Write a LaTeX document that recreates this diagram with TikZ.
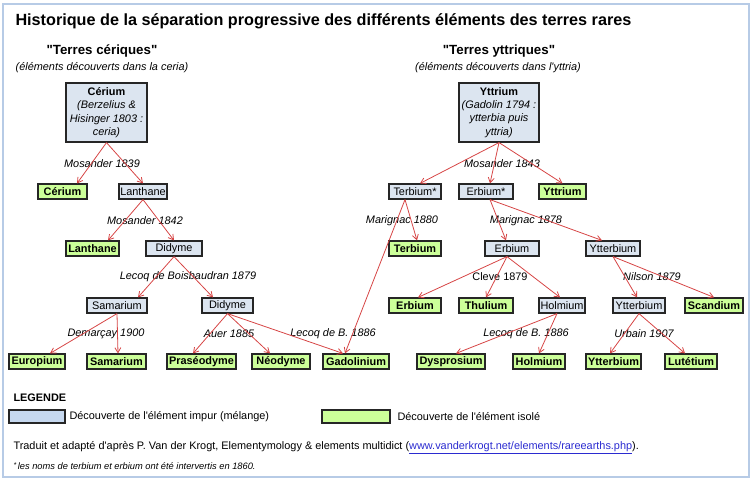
\documentclass[tikz,border=0pt]{standalone}
\usepackage{fontspec}
\setmainfont{Liberation Sans}[Ligatures=TeXOff]
\usetikzlibrary{arrows.meta}
\definecolor{impurfill}{HTML}{DCE5F0}
\definecolor{legimpur}{HTML}{C6D8EF}
\definecolor{isolefill}{HTML}{CCFF99}
\definecolor{fleche}{HTML}{D64545}
\definecolor{cadre}{HTML}{B7CBE6}
\definecolor{lien}{HTML}{2B2BD0}
\begin{document}
\begin{tikzpicture}[x=1pt,y=-1pt,
  impur/.style={draw=black!85,line width=1.2pt,fill=impurfill,inner sep=1pt,minimum height=15pt,font=\fontsize{10.9}{12}\selectfont},
  isole/.style={impur,fill=isolefill,font=\fontsize{10.9}{12}\selectfont\bfseries},
  souche/.style={impur,minimum height=59pt,align=center,font=\fontsize{10.9}{13.3}\selectfont},
  date/.style={font=\fontsize{10.9}{12}\selectfont\itshape},
  fl/.style={-{Straight Barb[length=5pt,width=6pt]},fleche,line width=0.8pt}]
\useasboundingbox (0,0) rectangle (754,485);
\draw[cadre,line width=1.5pt] (3,4) rectangle (749,477);
\node[anchor=west,font=\fontsize{16.2}{18}\selectfont\bfseries] (titre) at (12,21) {Historique de la séparation progressive des différents éléments des terres rares};
% terres ceriques
\node[font=\fontsize{13.3}{15}\selectfont\bfseries] (tc) at (102,51) {"Terres cériques"};
\node[date] (tcs) at (102,68) {(éléments découverts dans la ceria)};
\node[souche,minimum width=81pt] (ce0) at (106.5,112.5) {\textbf{Cérium}\\\textit{(Berzelius \&}\\\textit{Hisinger 1803 :}\\\textit{ceria)}};
\node[isole,minimum width=49pt] (ce1) at (62.5,191.5) {Cérium};
\node[impur,minimum width=48pt] (la1) at (143,191.5) {Lanthane};
\node[isole,minimum width=53pt] (la2) at (92.5,248.5) {Lanthane};
\node[impur,minimum width=56pt] (di1) at (174,248.5) {Didyme};
\node[impur,minimum width=60pt] (sm1) at (117,305.5) {Samarium};
\node[impur,minimum width=51pt] (di2) at (227.5,305.5) {Didyme};
\node[isole,minimum width=56pt] (eu) at (37,361.5) {Europium};
\node[isole,minimum width=59pt] (sm2) at (116.5,361.5) {Samarium};
\node[isole,minimum width=69pt] (pr) at (201.5,361.5) {Praséodyme};
\node[isole,minimum width=58pt] (nd) at (281,361.5) {Néodyme};
\node[isole,minimum width=66pt] (gd) at (356,361.5) {Gadolinium};
% terres yttriques
\node[font=\fontsize{13.3}{15}\selectfont\bfseries] (ty) at (499,51) {"Terres yttriques"};
\node[date] (tys) at (498,68) {(éléments découverts dans l'yttria)};
\node[souche,minimum width=80pt] (y0) at (499,112.5) {\textbf{Yttrium}\\\textit{(Gadolin 1794 :}\\\textit{ytterbia puis}\\\textit{yttria)}};
\node[impur,minimum width=52pt] (tb1) at (415,191.5) {Terbium*};
\node[impur,minimum width=54pt] (er1) at (486,191.5) {Erbium*};
\node[isole,minimum width=47pt] (y1) at (562.5,191.5) {Yttrium};
\node[isole,minimum width=52pt] (tb2) at (415,248.5) {Terbium};
\node[impur,minimum width=54pt] (er2) at (512,248.5) {Erbium};
\node[impur,minimum width=54pt] (yb1) at (613,248.5) {Ytterbium};
\node[isole,minimum width=52pt] (er3) at (415,305.5) {Erbium};
\node[isole,minimum width=54pt] (tm) at (486,305.5) {Thulium};
\node[impur,minimum width=46pt] (ho1) at (562,305.5) {Holmium};
\node[impur,minimum width=52pt] (yb2) at (639,305.5) {Ytterbium};
\node[isole,minimum width=58pt] (sc) at (714,305.5) {Scandium};
\node[isole,minimum width=68pt] (dy) at (451,361.5) {Dysprosium};
\node[isole,minimum width=52pt] (ho2) at (539,361.5) {Holmium};
\node[isole,minimum width=55pt] (yb3) at (613.5,361.5) {Ytterbium};
\node[isole,minimum width=52pt] (lu) at (691,361.5) {Lutétium};
% dates
\node[date] (d1) at (102,164) {Mosander 1839};
\node[date] (d2) at (145,221) {Mosander 1842};
\node[date] (d3) at (188,277) {Lecoq de Boisbaudran 1879};
\node[date] (d4) at (106,334) {Demarçay 1900};
\node[date] (d5) at (229,334) {Auer 1885};
\node[date] (d6) at (333,334) {Lecoq de B. 1886};
\node[date] (d7) at (502,164) {Mosander 1843};
\node[date] (d8) at (402,221) {Marignac 1880};
\node[date] (d9) at (526,221) {Marignac 1878};
\node[font=\fontsize{10.9}{12}\selectfont] (d10) at (500,277) {Cleve 1879};
\node[date] (d11) at (652,277) {Nilson 1879};
\node[date] (d12) at (526,334) {Lecoq de B. 1886};
\node[date] (d13) at (644,334) {Urbain 1907};
% fleches
\draw[fl] (ce0.south) -- ([xshift=14.5]ce1.north);
\draw[fl] (ce0.south) -- (la1.north);
\draw[fl] (la1.south) -- ([xshift=15.5]la2.north);
\draw[fl] (la1.south) -- (di1.north);
\draw[fl] (di1.south) -- ([xshift=21]sm1.north);
\draw[fl] (di1.south) -- ([xshift=-14.5]di2.north);
\draw[fl] (sm1.south) -- ([xshift=13]eu.north);
\draw[fl] (sm1.south) -- ([xshift=1.5]sm2.north);
\draw[fl] (di2.south) -- ([xshift=-8.5]pr.north);
\draw[fl] (di2.south) -- ([xshift=-11]nd.north);
\draw[fl] (di2.south) -- ([xshift=-13]gd.north);
\draw[fl] (y0.south) -- ([xshift=5]tb1.north);
\draw[fl] (y0.south) -- ([xshift=4]er1.north);
\draw[fl] (y0.south) -- (y1.north);
\draw[fl] ([xshift=-10]tb1.south) -- ([xshift=2]tb2.north);
\draw[fl] ([xshift=-10]tb1.south) -- ([xshift=-11]gd.north);
\draw[fl] ([xshift=4]er1.south) -- ([xshift=-6]er2.north);
\draw[fl] ([xshift=4]er1.south) -- ([xshift=-11]yb1.north);
\draw[fl] ([xshift=-5]er2.south) -- ([xshift=3]er3.north);
\draw[fl] ([xshift=-5]er2.south) -- (tm.north);
\draw[fl] ([xshift=-5]er2.south) -- ([xshift=-2]ho1.north);
\draw[fl] (yb1.south) -- ([xshift=-2]yb2.north);
\draw[fl] (yb1.south) -- (sc.north);
\draw[fl] ([xshift=-5]ho1.south) -- ([xshift=5]dy.north);
\draw[fl] ([xshift=-5]ho1.south) -- (ho2.north);
\draw[fl] (yb2.south) -- ([xshift=-3.5]yb3.north);
\draw[fl] (yb2.south) -- ([xshift=-6]lu.north);
% legende
\node[anchor=west,font=\fontsize{10.9}{12}\selectfont\bfseries] (leg) at (10,398) {LEGENDE};
\node[impur,fill=legimpur,minimum width=56pt,minimum height=13pt] (lg1) at (37,416.5) {};
\node[anchor=west,font=\fontsize{10.9}{12}\selectfont] (lt1) at (66,417) {Découverte de l'élément impur (mélange)};
\node[isole,minimum width=68pt,minimum height=13pt] (lg2) at (356,416.5) {};
\node[anchor=west,font=\fontsize{10.9}{12}\selectfont] (lt2) at (394,417) {Découverte de l'élément isolé};
\node[anchor=west,font=\fontsize{10.9}{12}\selectfont] (src) at (10,448) {Traduit et adapté d'après P. Van der Krogt, Elementymology \& elements multidict (\textcolor{lien}{\underline{www.vanderkrogt.net/elements/rareearths.php}}).};
\node[anchor=west,font=\fontsize{9.3}{11}\selectfont\itshape] (note) at (10,466) {\raisebox{0.3ex}{\fontsize{7}{8}\selectfont*}\,les noms de terbium et erbium ont été intervertis en 1860.};
\end{tikzpicture}
\end{document}
